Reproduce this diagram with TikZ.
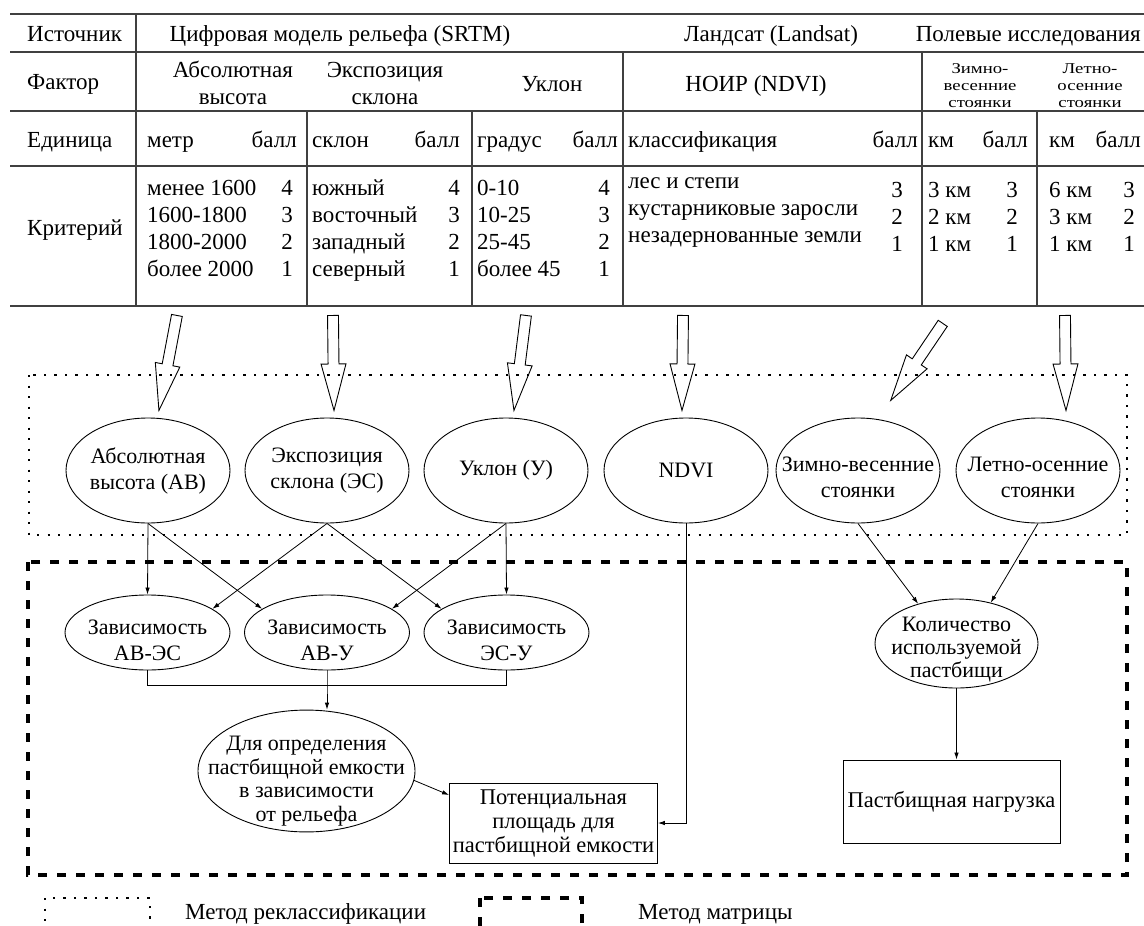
\documentclass[tikz,border=0pt]{standalone}
\usepackage{fontspec}
\setmainfont{Liberation Serif}
\newfontfamily\headwide[FakeStretch=1.25]{Liberation Serif}
\usetikzlibrary{arrows.meta,calc,positioning,shapes.geometric,shapes.arrows}

\tikzset{
  rule/.style={draw=black!75, line width=1.4pt},
  txt/.style={inner sep=0pt, font=\fontsize{23}{26}\selectfont},
  tiny/.style={inner sep=0pt, font=\headwide\fontsize{15}{17}\selectfont},
  oval/.style={ellipse, draw, line width=0.9pt, inner xsep=-30pt, inner ysep=-12pt,
    align=center, font=\fontsize{22}{26}\selectfont},
  blk/.style={rectangle, draw, line width=0.9pt, align=center, font=\fontsize{22.5}{24}\selectfont},
  conn/.style={-{Latex[length=7pt,width=4.5pt]}, line width=0.8pt},
  fat/.style={single arrow, draw, line width=0.9pt, inner sep=5pt,
    single arrow head extend=7pt, single arrow tip angle=30},
  reclass/.style={line width=2.2pt, dash pattern=on 2.2pt off 8.3pt},
  matrixframe/.style={line width=3.8pt, dash pattern=on 9pt off 10pt},
}

\begin{document}
\begin{tikzpicture}[x=1pt,y=-1pt]
\useasboundingbox (0,0) rectangle (1144,926);
\clip (0,0) rectangle (1144,926);

% table rules
\foreach \y in {14,52,111,166,306}
  \draw[rule] (10,\y) -- (1144,\y);
\draw[rule] (136,14) -- (136,306);
\foreach \x in {623,922}
  \draw[rule] (\x,52) -- (\x,306);
\foreach \x in {307,472,1037}
  \draw[rule] (\x,111) -- (\x,306);

% header rows
\node[txt, anchor=base west] (src) at (27,41) {Источник};
\node[txt, anchor=base] (srtm) at (340,41) {Цифровая модель рельефа (SRTM)};
\node[txt, anchor=base] (lsat) at (771,41) {Ландсат (Landsat)};
\node[txt, anchor=base east] (fld) at (1141,41) {Полевые исследования};

\node[txt, anchor=base west] (fac) at (27,89) {Фактор};
\node[txt, anchor=base] (fav1) at (233,77) {Абсолютная};
\node[txt, anchor=base] (fav2) at (233,104) {высота};
\node[txt, anchor=base] (fes1) at (385,77) {Экспозиция};
\node[txt, anchor=base] (fes2) at (385,104) {склона};
\node[txt, anchor=base] (fuk) at (552,91) {Уклон};
\node[txt, anchor=base] (fnd) at (756,91) {НОИР (NDVI)};
\foreach \t [count=\i] in {Зимно-, весенние, стоянки}
  \node[tiny, anchor=base] (fzv\i) at (980,{56+17*\i}) {\t};
\foreach \t [count=\i] in {Летно-, осенние, стоянки}
  \node[tiny, anchor=base] (flo\i) at (1090,{56+17*\i}) {\t};

\node[txt, anchor=base west] (unit) at (27,147) {Единица};
\foreach \x/\t [count=\i] in {147/метр, 312/склон, 477/градус, 628/классификация, 928/км, 1049/км}
  \node[txt, anchor=base west] (u\i) at (\x,147) {\t};
\foreach \x [count=\i] in {297,460,618,918,1028,1141}
  \node[txt, anchor=base east] (b\i) at (\x,147) {балл};

% criteria
\node[txt, anchor=base west] (crit) at (27,235) {Критерий};
\foreach \t/\n [count=\i] in {менее 1600/4, 1600-1800/3, 1800-2000/2, более 2000/1} {
  \node[txt, anchor=base west] (av\i) at (147,{168+27*\i}) {\t};
  \node[txt, anchor=base east] (avn\i) at (293,{168+27*\i}) {\n};
}
\foreach \t/\n [count=\i] in {южный/4, восточный/3, западный/2, северный/1} {
  \node[txt, anchor=base west] (es\i) at (312,{168+27*\i}) {\t};
  \node[txt, anchor=base east] (esn\i) at (460,{168+27*\i}) {\n};
}
\foreach \t/\n [count=\i] in {0-10/4, 10-25/3, 25-45/2, более 45/1} {
  \node[txt, anchor=base west] (uk\i) at (477,{168+27*\i}) {\t};
  \node[txt, anchor=base east] (ukn\i) at (610,{168+27*\i}) {\n};
}
\foreach \t/\n [count=\i] in {лес и степи/3, кустарниковые заросли/2, незадернованные земли/1} {
  \node[txt, anchor=base west] (nd\i) at (628,{161+27*\i}) {\t};
  \node[txt, anchor=base east] (ndn\i) at (903,{170+27*\i}) {\n};
}
\foreach \t/\n [count=\i] in {3 км/3, 2 км/2, 1 км/1} {
  \node[txt, anchor=base west] (zv\i) at (928,{170+27*\i}) {\t};
  \node[txt, anchor=base east] (zvn\i) at (1018,{170+27*\i}) {\n};
}
\foreach \t/\n [count=\i] in {6 км/3, 3 км/2, 1 км/1} {
  \node[txt, anchor=base west] (lo\i) at (1049,{170+27*\i}) {\t};
  \node[txt, anchor=base east] (lon\i) at (1135,{170+27*\i}) {\n};
}

% method frames
\draw[reclass] (29,375) rectangle (1127,535);
\draw[matrixframe] (28,562) rectangle (1127,875);

% factor layers
\node[oval, minimum width=164pt, minimum height=105pt] (AV) at (148,470.5) {Абсолютная\\высота (АВ)};
\node[oval, minimum width=164pt, minimum height=105pt] (ES) at (327,470.5) {Экспозиция\\склона (ЭС)};
\node[oval, minimum width=164pt, minimum height=105pt] (UK) at (506,470.5) {Уклон (У)};
\node[oval, minimum width=164pt, minimum height=105pt] (ND) at (686,470.5) {NDVI};
\node[oval, minimum width=164pt, minimum height=105pt] (ZV) at (858,470.5) {\mbox{}\\[2pt]Зимно-весенние\\стоянки};
\node[oval, minimum width=164pt, minimum height=105pt] (LO) at (1038,470.5) {\mbox{}\\[2pt]Летно-осенние\\стоянки};

% pairwise dependencies
\node[oval, minimum width=165pt, minimum height=75pt] (AVES) at (147.5,632.5) {\mbox{}\\[4pt]Зависимость\\АВ-ЭС};
\node[oval, minimum width=165pt, minimum height=75pt] (AVU) at (327,632.5) {\mbox{}\\[4pt]Зависимость\\АВ-У};
\node[oval, minimum width=165pt, minimum height=75pt] (ESU) at (506.5,632.5) {\mbox{}\\[4pt]Зависимость\\ЭС-У};
\node[oval, minimum width=217pt, minimum height=119pt, font=\fontsize{22}{23.5}\selectfont] (REL) at (306.5,771)
  {\mbox{}\\[11.5pt]Для определения\\пастбищной емкости\\в зависимости\\от рельефа};
\node[blk, minimum width=201pt, minimum height=80pt] (POT) at (553.5,823) {Потенциальная\\площадь для\\пастбищной емкости};
\node[oval, minimum width=163pt, minimum height=89pt, font=\fontsize{22}{23}\selectfont] (KOL) at (956.5,643.5)
  {\mbox{}\\[3pt]Количество\\используемой\\пастбищи};
\node[blk, minimum width=217pt, minimum height=83pt] (NAG) at (951.5,801.5) {Пастбищная нагрузка};

% hollow arrows from the table
\coordinate (s1) at (177,315);  \coordinate (t1) at (159,410);
\coordinate (s2) at (333,315);  \coordinate (t2) at (334,410);
\coordinate (s3) at (526,315);  \coordinate (t3) at (514,410);
\coordinate (s4) at (683,315);  \coordinate (t4) at (682,410);
\coordinate (s5) at (943,323);  \coordinate (t5) at (891,400);
\coordinate (s6) at (1065,315); \coordinate (t6) at (1066,410);
\foreach \i in {1,...,6}
  \path let \p1=(s\i), \p2=(t\i), \n1={atan2(\y2-\y1,\x2-\x1)}, \n2={veclen(\x2-\x1,\y2-\y1)} in
    node[fat, rotate=\n1, minimum height=\n2, anchor=tail] (fa\i) at (\p1) {};

% connectors
\draw[conn] (AV.south) -- (AVES.north);
\draw[conn] (AV.south) -- (AVU.160);
\draw[conn] (ES.south) -- (AVES.20);
\draw[conn] (ES.south) -- (ESU.160);
\draw[conn] (UK.south) -- (AVU.20);
\draw[conn] (UK.south) -- (ESU.north);
\coordinate (jn) at ($(AVU.south)+(0,15)$);
\draw[line width=0.8pt] (AVES.south) |- (jn) -| (ESU.south);
\draw[conn] (AVU.south) -- (jn) -- (jn |- REL.north);
\draw[conn] (REL.-5) -- (POT.165);
\draw[conn] (ND.south) |- (POT.east);
\draw[conn] (ZV.south) -- (KOL.134);
\draw[conn] (LO.south) -- (KOL.50);
\draw[conn] (KOL.south) -- (KOL.south |- NAG.north);

% legend
\draw[reclass, line width=1.8pt] (45,898) rectangle (150,945);
\node[txt, anchor=base west] (lg1) at (185,919) {Метод реклассификации};
\draw[matrixframe] (480,898) rectangle (582,945);
\node[txt, anchor=base west] (lg2) at (638,919) {Метод матрицы};
\end{tikzpicture}
\end{document}
